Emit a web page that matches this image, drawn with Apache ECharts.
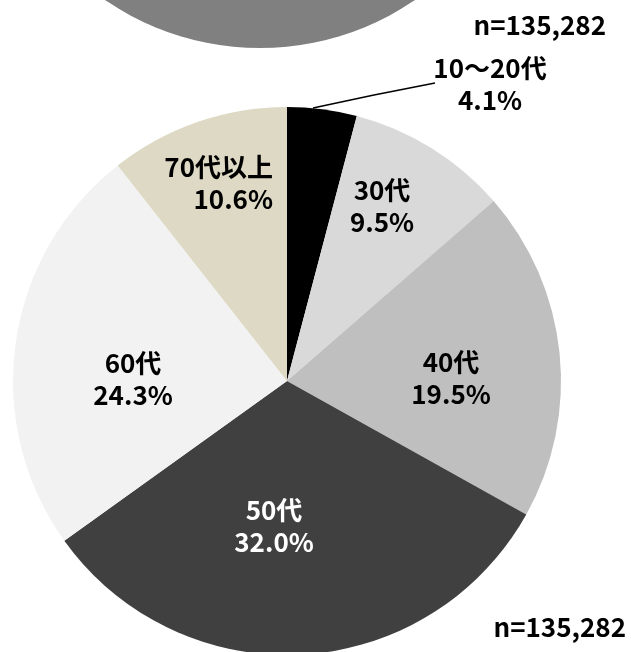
<!DOCTYPE html>
<html>
<head>
<meta charset="utf-8">
<script src="https://cdn.jsdelivr.net/npm/echarts@6/dist/echarts.min.js"></script>
<style>
html,body{margin:0;padding:0;background:#fff;}
#main{width:631px;height:652px;}
</style>
</head>
<body>
<div id="main"></div>
<script>
// 年代別構成比
var ageNames = ['10～20代', '30代', '40代', '50代', '60代', '70代以上'];
var ageShare = [4.1, 9.5, 19.5, 32.0, 24.3, 10.6];
var sliceColors = ['#000000', '#d9d9d9', '#bfbfbf', '#404040', '#f2f2f2', '#ddd9c4'];
var labelColors = ['#000', '#000', '#000', '#fff', '#000', '#000'];
var sampleText = 'n=135,282';
var prevShare = [100];   // 上の円グラフ（下端だけ見えている）

var FONT = "'Noto Sans CJK JP', sans-serif";

// ラベル位置（中心）
var labelPos = [
    {x: 490, y: 84, align: 'center'},
    {x: 382, y: 206, align: 'center'},
    {x: 451, y: 378, align: 'center'},
    {x: 274, y: 526, align: 'center'},
    {x: 133, y: 379, align: 'center'},
    {x: 273, y: 183, align: 'right'}
];

var chart = echarts.init(document.getElementById('main'));

var mainData = [];
for (var i = 0; i < ageNames.length; i++) {
    mainData.push({
        name: ageNames[i],
        value: ageShare[i],
        itemStyle: {color: sliceColors[i]},
        label: {
            position: i == 0 ? 'outside' : 'inside',
            color: labelColors[i],
            align: labelPos[i].align
        },
        labelLine: {show: i == 0, lineStyle: {color: '#000', width: 1.5}}
    });
}

var option = {
    backgroundColor: '#fff',
    animation: false,
    graphic: [
        {type: 'text', x: 606, y: 25, style: {text: sampleText, align: 'right', verticalAlign: 'middle', fill: '#000', fontSize: 26, fontWeight: 'bold', fontFamily: FONT}},
        {type: 'text', x: 626, y: 627, style: {text: sampleText, align: 'right', verticalAlign: 'middle', fill: '#000', fontSize: 26, fontWeight: 'bold', fontFamily: FONT}}
    ],
    series: [
        {
            type: 'pie',
            silent: true,
            center: [260, -226],
            radius: 274,
            label: {show: false},
            labelLine: {show: false},
            itemStyle: {color: '#808080', borderWidth: 0},
            data: prevShare
        },
        {
            type: 'pie',
            center: [287, 381],
            radius: 274,
            startAngle: 90,
            clockwise: true,
            avoidLabelOverlap: false,
            itemStyle: {borderWidth: 0},
            label: {
                show: true,
                fontSize: 26,
                fontWeight: 'bold',
                fontFamily: FONT,
                lineHeight: 32,
                formatter: function (p) {
                    return p.name + '\n' + p.value.toFixed(1) + '%';
                }
            },
            labelLayout: function (p) {
                var pos = labelPos[p.dataIndex];
                var res = {x: pos.x, y: pos.y, align: pos.align, verticalAlign: 'middle'};
                if (p.dataIndex == 0) {
                    res.labelLinePoints = [[313, 108], [374, 95], [435, 83]];
                }
                return res;
            },
            data: mainData
        }
    ]
};
chart.setOption(option);
</script>
</body>
</html>
